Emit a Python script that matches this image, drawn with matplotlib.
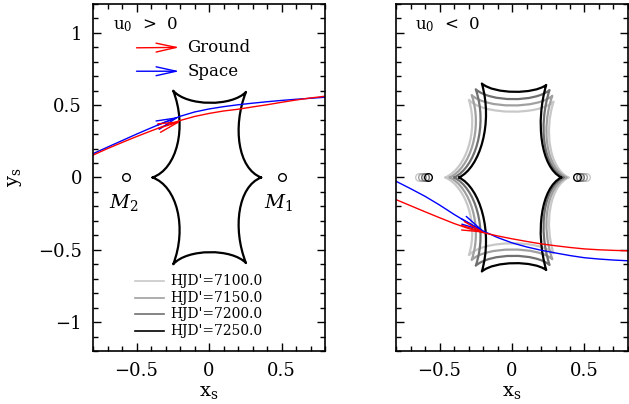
import numpy as np
import matplotlib
matplotlib.use("Agg")
import matplotlib.pyplot as plt
from matplotlib.path import Path
from matplotlib.patches import PathPatch
from matplotlib.ticker import MultipleLocator

plt.rcParams['font.family'] = 'DejaVu Serif'
plt.rcParams['mathtext.fontset'] = 'dejavuserif'

# caustics: upper half as cusp / bezier control points (lower half is mirrored)
# order: left cusp, c, c, top-left cusp, c, c, top-right cusp, c, c, right cusp
caustic_pos = [(-0.39, 0.0), (-0.22, 0.06), (-0.15, 0.35), (-0.247, 0.60),
               (-0.15, 0.49), (0.16, 0.49), (0.255, 0.592),
               (0.16, 0.35), (0.20, 0.06), (0.36, 0.0)]

epochs = ["7100.0", "7150.0", "7200.0", "7250.0"]
epoch_colors = ["#c8c8c8", "#a0a0a0", "#707070", "#000000"]
caustic_7100 = [(-0.46, 0.0), (-0.32, 0.06), (-0.23, 0.32), (-0.297, 0.537),
                (-0.20, 0.43), (0.19, 0.43), (0.287, 0.525),
                (0.22, 0.32), (0.26, 0.06), (0.39, 0.0)]
caustic_7150 = [(-0.43, 0.0), (-0.29, 0.065), (-0.20, 0.34), (-0.278, 0.57),
                (-0.18, 0.475), (0.175, 0.475), (0.278, 0.565),
                (0.20, 0.34), (0.235, 0.065), (0.375, 0.0)]
caustic_7200 = [(-0.40, 0.0), (-0.255, 0.068), (-0.165, 0.36), (-0.25, 0.61),
                (-0.15, 0.52), (0.16, 0.52), (0.259, 0.605),
                (0.18, 0.36), (0.215, 0.068), (0.355, 0.0)]
caustic_7250 = [(-0.366, 0.0), (-0.22, 0.07), (-0.13, 0.38), (-0.208, 0.65),
                (-0.12, 0.575), (0.15, 0.575), (0.236, 0.64),
                (0.16, 0.38), (0.20, 0.07), (0.34, 0.0)]
caustics_neg = [caustic_7100, caustic_7150, caustic_7200, caustic_7250]

# lens positions
m1_pos, m2_pos = 0.505, -0.57
m2_neg = [-0.640, -0.618, -0.597, -0.576]
m1_neg = [0.513, 0.492, 0.470, 0.449]

# trajectories
traj_x = [-0.8, -0.7, -0.6, -0.5, -0.4, -0.3, -0.2, -0.1, 0.0,
          0.1, 0.2, 0.3, 0.4, 0.5, 0.6, 0.7, 0.8]
# u0 > 0
ground_pos = [0.155, 0.20, 0.242, 0.283, 0.322, 0.36, 0.394, 0.422, 0.443,
              0.46, 0.472, 0.488, 0.503, 0.52, 0.536, 0.55, 0.562]
space_pos = [0.165, 0.21, 0.255, 0.30, 0.343, 0.385, 0.423, 0.453, 0.474,
             0.49, 0.503, 0.514, 0.524, 0.533, 0.541, 0.548, 0.555]
# u0 < 0
ground_neg = [-0.153, -0.195, -0.237, -0.278, -0.318, -0.353, -0.381, -0.404, -0.424,
              -0.442, -0.459, -0.472, -0.484, -0.494, -0.500, -0.504, -0.507]
space_neg = [-0.026, -0.077, -0.130, -0.19, -0.255, -0.315, -0.37, -0.415, -0.452,
             -0.48, -0.503, -0.522, -0.540, -0.555, -0.564, -0.571, -0.576]


def caustic_patch(pts, color, lw=1.6):
    top = np.array(pts)
    bot = top * [1, -1]
    codes = [Path.MOVETO] + [Path.CURVE4] * (len(top) - 1)
    path = Path(np.vstack([top, bot]), codes + codes)
    return PathPatch(path, fill=False, edgecolor=color, lw=lw, capstyle='round', joinstyle='round')


def arrow(ax, tail, tip, color, hl=1.45, hw=0.32):
    ax.annotate('', xy=tip, xytext=tail,
                arrowprops=dict(arrowstyle=f'->,head_length={hl},head_width={hw}',
                                color=color, lw=1.0, shrinkA=0, shrinkB=0,
                                mutation_scale=10))


def style(ax, left_labels=True):
    ax.set_xlim(-0.8, 0.8)
    ax.set_ylim(-1.2, 1.2)
    ax.set_xticks([-0.5, 0, 0.5])
    ax.set_xticklabels(['\u22120.5', '0', '0.5'])
    ax.set_yticks([-1, -0.5, 0, 0.5, 1])
    ax.set_yticklabels(['\u22121', '\u22120.5', '0', '0.5', '1'])
    ax.xaxis.set_minor_locator(MultipleLocator(0.1))
    ax.yaxis.set_minor_locator(MultipleLocator(0.1))
    ax.tick_params(which='both', direction='in', top=True, right=True, width=1.0)
    ax.tick_params(which='major', length=6, labelsize=13, pad=8)
    ax.tick_params(which='minor', length=3.5)
    ax.tick_params(labelleft=left_labels)
    for s in ax.spines.values():
        s.set_linewidth(1.2)
    ax.set_xlabel('x$_\\mathrm{s}$', fontsize=14, labelpad=2)


fig = plt.figure(figsize=(6.29, 4.04), dpi=100)
ax1 = fig.add_axes([0.1479, 0.1312, 0.3688, 0.8589])
ax2 = fig.add_axes([0.6296, 0.1312, 0.3688, 0.8589])

# left panel: u0 > 0
ax1.add_patch(caustic_patch(caustic_pos, 'black'))
ax1.plot([m2_pos, m1_pos], [0, 0], 'o', mfc='none', mec='black', ms=5.5, mew=1.0)
ax1.text(m2_pos - 0.02, -0.175, '$M_2$', fontsize=14, ha='center', va='center')
ax1.text(m1_pos - 0.025, -0.175, '$M_1$', fontsize=14, ha='center', va='center')
ax1.plot(traj_x, space_pos, color='blue', lw=1.0)
ax1.plot(traj_x, ground_pos, color='red', lw=1.0)
arrow(ax1, (-0.36, 0.36), (-0.204, 0.42), 'blue')
arrow(ax1, (-0.35, 0.34), (-0.19, 0.39), 'red')

ax1.text(-0.66, 1.06, 'u$_0$  >  0', fontsize=12, va='center')
arrow(ax1, (-0.50, 0.897), (-0.204, 0.90), 'red')
ax1.text(-0.15, 0.90, 'Ground', fontsize=12, va='center')
arrow(ax1, (-0.50, 0.735), (-0.204, 0.735), 'blue')
ax1.text(-0.15, 0.735, 'Space', fontsize=12, va='center')

leg_y = [-0.715, -0.83, -0.945, -1.06]
for ep, col, yy in zip(epochs, epoch_colors, leg_y):
    ax1.plot([-0.51, -0.31], [yy, yy], color=col, lw=1.2)
    ax1.text(-0.265, yy, "HJD'=" + ep, fontsize=10, va='center')

style(ax1)
ax1.set_ylabel('y$_\\mathrm{s}$', fontsize=14, labelpad=10)

# right panel: u0 < 0
for pts, col, xa, xb in zip(caustics_neg, epoch_colors, m2_neg, m1_neg):
    ax2.add_patch(caustic_patch(pts, col))
    ax2.plot([xa, xb], [0, 0], 'o', mfc='none', mec=col, ms=5.5, mew=1.0)
ax2.plot(traj_x, space_neg, color='blue', lw=1.0)
ax2.plot(traj_x, ground_neg, color='red', lw=1.0)
arrow(ax2, (-0.35, -0.285), (-0.19, -0.375), 'blue')
arrow(ax2, (-0.35, -0.33), (-0.185, -0.383), 'red')
ax2.text(-0.67, 1.06, 'u$_0$  <  0', fontsize=12, va='center')
style(ax2, left_labels=False)

fig.savefig('out.png', dpi=100)
